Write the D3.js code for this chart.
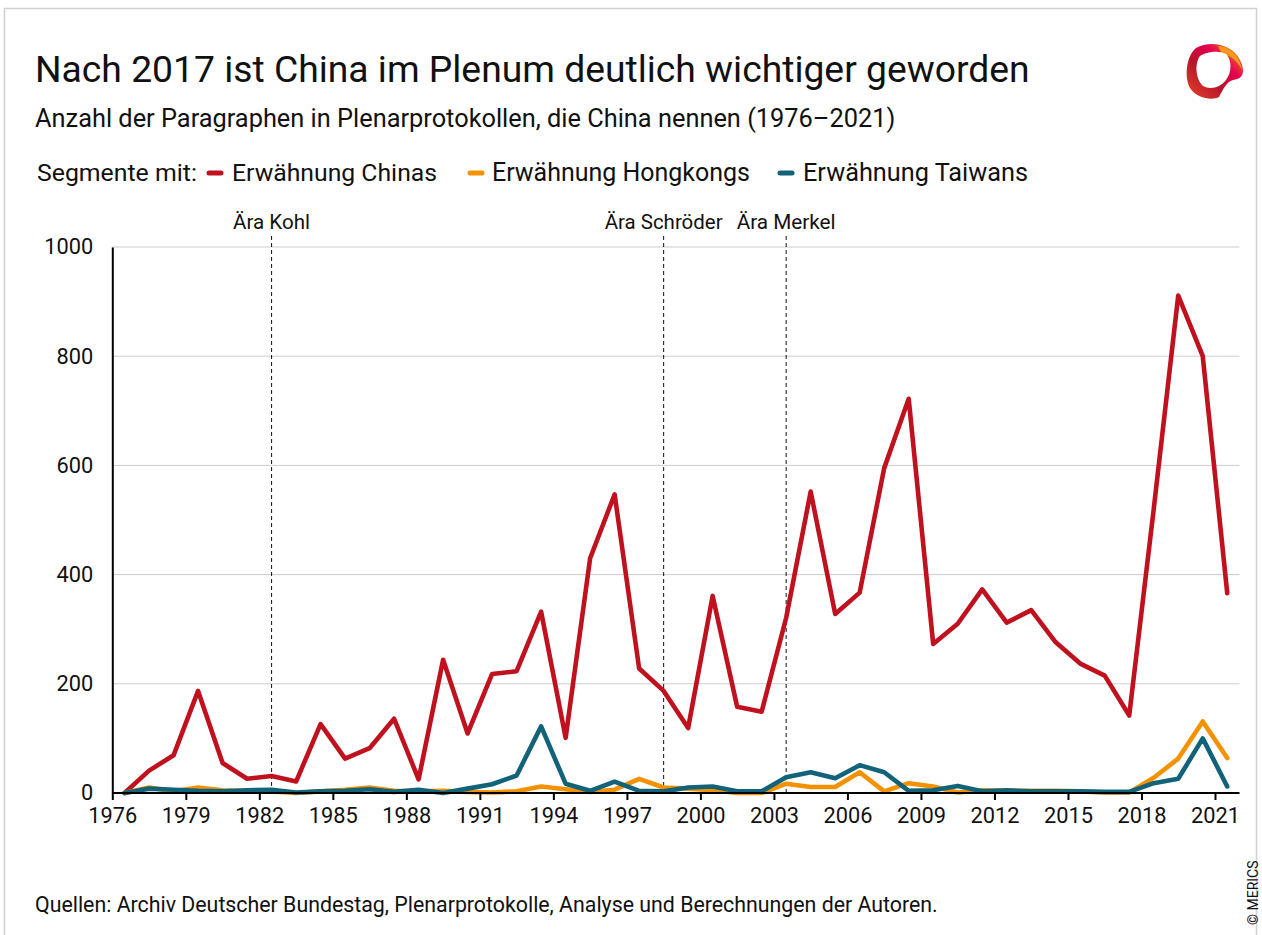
<!DOCTYPE html>
<html>
<head>
<meta charset="utf-8">
<script src="https://cdn.jsdelivr.net/npm/d3@7"></script>
<style>
  body { margin: 0; background: #fff; }
  svg { display: block; font-family: Roboto, "Noto Sans", sans-serif; }
</style>
</head>
<body>
<svg id="chart" width="1262" height="935"></svg>
<script>
// ---- Data ----
const years = d3.range(1976, 2022);
const china = [0,41,69,187,55,26,31,21,126,63,
               82,136,25,244,109,218,223,332,101,430,
               547,228,187,119,361,158,149,321,552,328,
               367,595,722,273,310,373,312,335,276,237,
               215,142,520,911,800,366];
const hongkong = [0,10,3,10,5,3,3,0,3,6,
                  10,4,3,4,2,1,3,12,7,2,
                  6,26,10,8,5,0,0,17,11,11,
                  38,3,18,12,1,5,4,4,4,3,
                  1,1,28,63,131,64];
const taiwan = [0,8,6,4,3,5,6,1,3,4,
                7,2,6,0,8,16,32,122,17,4,
                21,4,3,10,12,3,3,29,38,27,
                51,38,4,5,13,3,5,3,3,3,
                2,2,18,26,100,12];
const xTicks = d3.range(1976, 2022, 3);
const yTicks = [0, 200, 400, 600, 800, 1000];
const eraLabels = ["Ära Kohl", "Ära Schröder", "Ära Merkel"];
const eraYears = [1982, 1998, 2003];
const seriesNames = ["Erwähnung Chinas", "Erwähnung Hongkongs", "Erwähnung Taiwans"];
const colors = ["#c0111f", "#f39200", "#12637a"];
const title = "Nach 2017 ist China im Plenum deutlich wichtiger geworden";
const subtitle = "Anzahl der Paragraphen in Plenarprotokollen, die China nennen (1976–2021)";
const source = "Quellen: Archiv Deutscher Bundestag, Plenarprotokolle, Analyse und Berechnungen der Autoren.";

const svg = d3.select("#chart");

function fit(sel, target) {
  const fs = parseFloat(sel.attr("font-size"));
  const w = sel.node().getComputedTextLength();
  sel.attr("font-size", fs * target / w);
  return sel;
}
function measureSize(str, target, base) {
  const t = svg.append("text").attr("font-size", base).text(str);
  const w = t.node().getComputedTextLength();
  t.remove();
  return base * target / w;
}

// frame
svg.append("rect").attr("x", 4.5).attr("y", 8.5).attr("width", 1252).attr("height", 940)
  .attr("fill", "none").attr("stroke", "#d0d0d0").attr("stroke-width", 1.5);

// title
fit(svg.append("text").attr("x", 35).attr("y", 82).attr("font-size", 38).attr("fill", "#111").text(title), 995);
fit(svg.append("text").attr("x", 35).attr("y", 127).attr("font-size", 23).attr("fill", "#111").text(subtitle), 861);

// logo
const defs = svg.append("defs");
const g1 = defs.append("linearGradient").attr("id", "lg").attr("x1", "0%").attr("y1", "100%").attr("x2", "100%").attr("y2", "0%");
g1.append("stop").attr("offset", "0%").attr("stop-color", "#e8442a");
g1.append("stop").attr("offset", "40%").attr("stop-color", "#b5152b");
g1.append("stop").attr("offset", "65%").attr("stop-color", "#e4004f");
g1.append("stop").attr("offset", "100%").attr("stop-color", "#f39a10");
const logo = svg.append("g");
logo.append("path")
  .attr("d", "M1196,48 C1210,40 1232,44 1240,60 C1246,72 1243,79 1233,80 C1226,82 1223,90 1219,97 C1212,101 1196,98 1190,88 C1184,78 1186,56 1196,48 Z")
  .attr("fill", "url(#lg)");
logo.append("path")
  .attr("d", "M1218,46 C1230,46 1240,56 1242,70 C1238,62 1232,56 1222,54 Z")
  .attr("fill", "#f7a21b").attr("opacity", 0.9);
logo.append("path")
  .attr("d", "M1200,56 C1206,52 1218,50 1226,54 C1232,60 1232,72 1226,80 C1220,88 1210,90 1203,86 C1196,80 1194,64 1200,56 Z")
  .attr("fill", "#fff");

// legend
const legY = 181;
const legLabel = svg.append("text").attr("x", 37).attr("y", legY).attr("font-size", 24).attr("fill", "#111").text("Segmente mit:");
fit(legLabel, 160);
const legFs = parseFloat(legLabel.attr("font-size"));
const legPos = [{sx: 209, tx: 232, w: 205}, {sx: 470, tx: 492, w: 258}, {sx: 780, tx: 803, w: 225}];
seriesNames.forEach((n, i) => {
  svg.append("line").attr("x1", legPos[i].sx).attr("x2", legPos[i].sx + 12)
    .attr("y1", legY - 8).attr("y2", legY - 8)
    .attr("stroke", colors[i]).attr("stroke-width", 5).attr("stroke-linecap", "round");
  const t = svg.append("text").attr("x", legPos[i].tx).attr("y", legY).attr("font-size", legFs).attr("fill", "#111").text(n);
  fit(t, legPos[i].w);
});

// scales
const x = d3.scaleLinear().domain([1976, 2022]).range([112.3, 1239.5]);
const y = d3.scaleLinear().domain([0, 1000]).range([793, 247]);
const px = yr => x(yr + 0.5);

const tickFs = measureSize("2018", 49, 20);

// gridlines
svg.append("g").selectAll("line").data(yTicks.filter(d => d > 0)).join("line")
  .attr("x1", x(1976)).attr("x2", x(2022))
  .attr("y1", d => y(d)).attr("y2", d => y(d))
  .attr("stroke", "#cccccc").attr("stroke-width", 1);

// y axis
const yAxis = svg.append("g").attr("transform", `translate(${x(1976)},0)`)
  .call(d3.axisLeft(y).tickValues(yTicks).tickSize(0).tickPadding(19).tickFormat(d3.format("d")));
yAxis.select(".domain").attr("stroke", "#000").attr("stroke-width", 2);
yAxis.selectAll("text").attr("font-family", "Roboto, sans-serif").attr("font-size", tickFs).attr("fill", "#111");

// era lines
const eraG = svg.append("g");
const eraW = [77, 118, 99];
eraYears.forEach((yr, i) => {
  eraG.append("line").attr("x1", px(yr)).attr("x2", px(yr))
    .attr("y1", 236).attr("y2", y(0))
    .attr("stroke", "#111").attr("stroke-width", 1).attr("stroke-dasharray", "4,3");
  const t = eraG.append("text").attr("x", px(yr)).attr("y", 229).attr("text-anchor", "middle")
    .attr("font-size", 19).attr("fill", "#111").text(eraLabels[i]);
  fit(t, eraW[i]);
});

// lines
const line = d3.line().x((d, i) => px(years[i])).y(d => y(d));
[china, hongkong, taiwan].forEach((s, i) => {
  svg.append("path").datum(s).attr("d", line)
    .attr("fill", "none").attr("stroke", colors[i]).attr("stroke-width", 4.6)
    .attr("stroke-linejoin", "round").attr("stroke-linecap", "round");
});

// x axis
const xAxis = svg.append("g").attr("transform", `translate(0,${y(0)})`)
  .call(d3.axisBottom(x).tickValues(xTicks).tickSize(7).tickPadding(8).tickFormat(d3.format("d")));
xAxis.select(".domain").attr("stroke", "#000").attr("stroke-width", 2).attr("d", `M${x(1976)},0H${x(2022)}`);
xAxis.selectAll(".tick line").attr("stroke", "#000").attr("stroke-width", 2);
xAxis.selectAll("text").attr("font-family", "Roboto, sans-serif").attr("font-size", tickFs).attr("fill", "#111");

// footer
fit(svg.append("text").attr("x", 35).attr("y", 912).attr("font-size", 19).attr("fill", "#111").text(source), 903);
svg.append("text").attr("transform", "translate(1258,925) rotate(-90)")
  .attr("font-size", 14).attr("fill", "#111").text("© MERICS");
</script>
</body>
</html>
